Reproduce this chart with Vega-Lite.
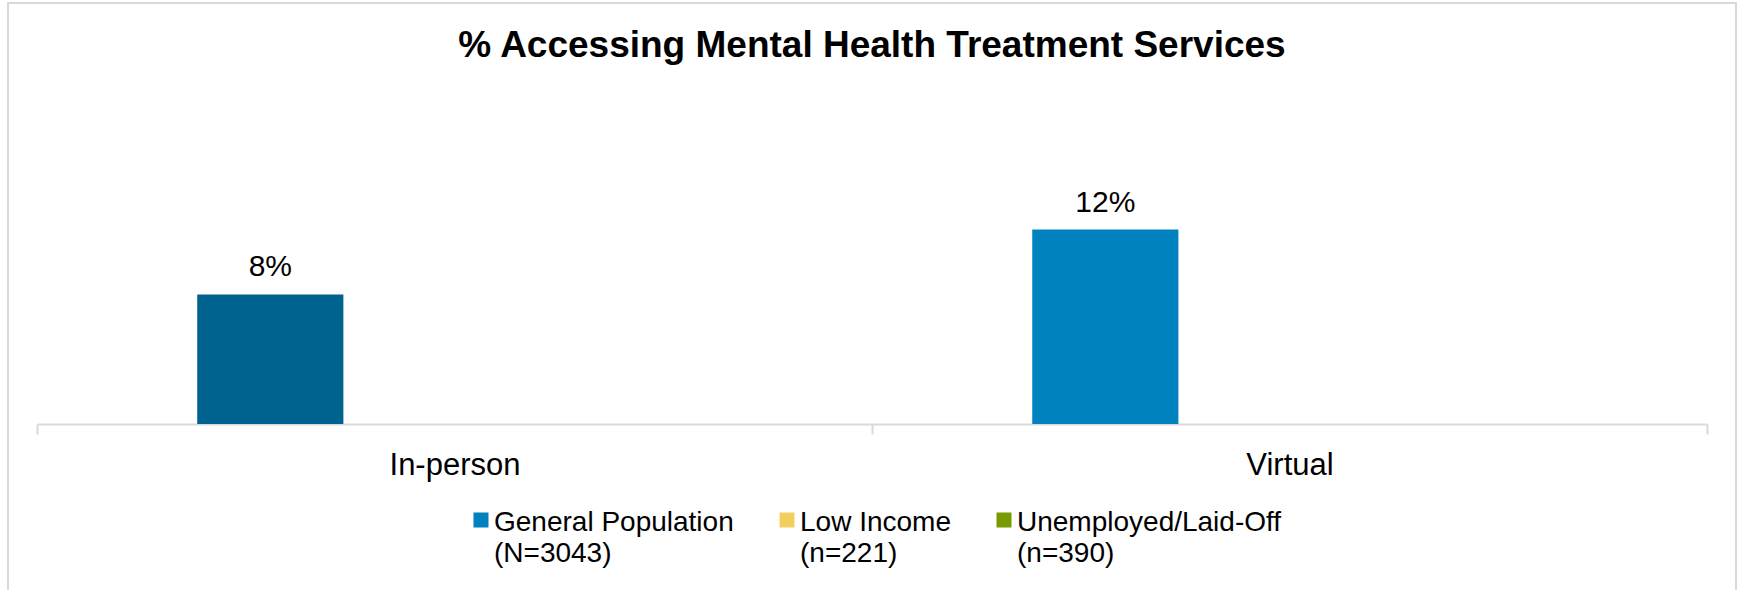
{
  "$schema": "https://vega.github.io/schema/vega-lite/v6.json",
  "width": 1728,
  "height": 600,
  "autosize": {"type": "none"},
  "padding": {"left": 8, "top": 3, "right": 4, "bottom": 0},
  "background": "white",
  "config": {
    "view": {"stroke": "#d9d9d9", "strokeWidth": 2},
    "font": "Liberation Sans",
    "style": {"guide-label": {"lineHeight": 31, "dy": 11}}
  },
  "title": {
    "text": "% Accessing Mental Health Treatment Services",
    "font": "Liberation Sans",
    "fontSize": 37,
    "fontWeight": "bold",
    "color": "#000000",
    "anchor": "middle",
    "frame": "group",
    "baseline": "alphabetic",
    "offset": 0,
    "dy": 91
  },
  "data": {
    "values": [
      {"category": "In-person", "group": "General Population (N=3043)", "pct": 0.08},
      {"category": "In-person", "group": "Low Income (n=221)", "pct": null},
      {"category": "In-person", "group": "Unemployed/Laid-Off (n=390)", "pct": null},
      {"category": "Virtual", "group": "General Population (N=3043)", "pct": 0.12},
      {"category": "Virtual", "group": "Low Income (n=221)", "pct": null},
      {"category": "Virtual", "group": "Unemployed/Laid-Off (n=390)", "pct": null}
    ]
  },
  "encoding": {
    "x": {
      "field": "category",
      "type": "nominal",
      "sort": ["In-person", "Virtual"],
      "scale": {"range": [29, 1699], "paddingInner": 0, "paddingOuter": 0},
      "axis": {
        "title": null,
        "orient": "bottom",
        "offset": -179,
        "domainColor": "#d9d9d9",
        "domainWidth": 2,
        "tickColor": "#d9d9d9",
        "tickWidth": 2,
        "tickSize": 10,
        "tickBand": "extent",
        "labelFontSize": 31,
        "labelColor": "#000000",
        "labelPadding": 29,
        "labelBaseline": "alphabetic",
        "labelAngle": 0,
        "labelFont": "Liberation Sans"
      }
    },
    "xOffset": {
      "field": "group",
      "type": "nominal",
      "scale": {
        "domain": ["General Population (N=3043)", "Low Income (n=221)", "Unemployed/Laid-Off (n=390)"],
        "paddingInner": 0.2065,
        "paddingOuter": 0.87
      }
    },
    "y": {
      "field": "pct",
      "type": "quantitative",
      "scale": {"domain": [0, 0.2], "range": [421, 97]},
      "axis": null
    }
  },
  "layer": [
    {
      "mark": {"type": "bar"},
      "encoding": {
        "color": {
          "condition": {"test": "datum.category === 'In-person'", "value": "#00628F"},
          "field": "group",
          "type": "nominal",
          "scale": {
            "domain": ["General Population (N=3043)", "Low Income (n=221)", "Unemployed/Laid-Off (n=390)"],
            "range": ["#0082BF", "#F2D060", "#7A9A01"]
          },
          "legend": {
            "title": null,
            "orient": "none",
            "legendX": 459,
            "legendY": 503,
            "direction": "horizontal",
            "symbolType": "square",
            "symbolSize": 225,
            "symbolStrokeWidth": 0,
            "symbolOpacity": 1,
            "labelFont": "Liberation Sans",
            "labelFontSize": 28,
            "labelColor": "#000000",
            "labelOffset": -1,
            "labelLimit": 0,
            "labelBaseline": "alphabetic",
            "columnPadding": 39,
            "padding": 0,
            "labelExpr": "[slice(datum.label, 0, indexof(datum.label, ' (')), slice(datum.label, indexof(datum.label, ' (') + 1)]"
          }
        }
      }
    },
    {
      "mark": {"type": "text", "dy": -18, "baseline": "alphabetic", "fontSize": 30, "color": "#000000", "font": "Liberation Sans"},
      "encoding": {
        "text": {"field": "pct", "type": "quantitative", "format": ".0%"}
      }
    }
  ]
}
